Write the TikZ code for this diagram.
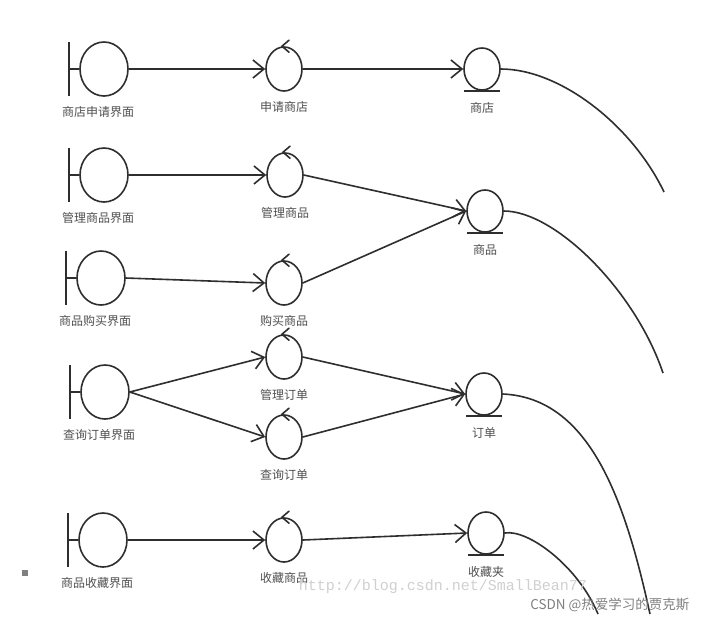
\documentclass[tikz,border=0pt]{standalone}
\usepackage{fontspec}
\setmainfont{Noto Sans CJK SC}
\newfontfamily\wmfont{Liberation Mono}
\usepackage{tikz}
\usetikzlibrary{arrows.meta}
\usetikzlibrary{shapes.geometric}
\definecolor{linegray}{HTML}{2E2E2E}
\definecolor{textgray}{HTML}{505050}
\definecolor{wmgray}{HTML}{D0D0D0}
\definecolor{csdngray}{HTML}{808080}
\tikzset{
  obj/.style={ellipse, draw=linegray, line width=1.6pt, inner sep=0pt},
  boundary/.style={obj, minimum width=48, minimum height=54},
  control/.style={obj, minimum width=36, minimum height=44},
  entity/.style={obj, minimum width=36, minimum height=42},
  link/.style={draw=linegray, line width=1.6pt},
  flow/.style={link, -{Straight Barb[length=11pt,width=18pt]}},
  every label/.style={text=textgray, font=\fontsize{12}{14}\selectfont}
}

\begin{document}
\begin{tikzpicture}[x=1pt,y=-1pt,label distance=6pt]
\fill[white] (0,0) rectangle (706,622);
\useasboundingbox (0,0) rectangle (706,622);
% boundary objects
\node[boundary, label={[xshift=-6pt]below:商店申请界面}] (b1) at (104,69) {};
\node[boundary, label={[xshift=-6pt]below:管理商品界面}] (b2) at (104,175) {};
\node[boundary, label={[xshift=-6pt]below:商品购买界面}] (b3) at (101,278) {};
\node[boundary, label={[xshift=-6pt]below:查询订单界面}] (b4) at (105,392) {};
\node[boundary, label={[xshift=-6pt]below:商品收藏界面}] (b5) at (103,540) {};
% control objects
\node[control, label=below:申请商店] (c1) at (284,69) {};
\node[control, label=below:管理商品] (c2) at (285,175) {};
\node[control, label=below:购买商品] (c3) at (284,283) {};
\node[control, label=below:管理订单] (c4a) at (284,357) {};
\node[control, label=below:查询订单] (c4b) at (284,437) {};
\node[control, label=below:收藏商品] (c5) at (284,540) {};
% entity objects
\node[entity, label={[label distance=8pt]below:商店}] (e1) at (482,69) {};
\node[entity, label={[label distance=8pt]below:商品}] (e2) at (485,211) {};
\node[entity, label={[label distance=8pt]below:订单}] (e4) at (484,394) {};
\node[entity, label={[label distance=8pt]below:收藏夹}] (e5) at (486,533) {};
\foreach \n in {b1,b2,b3,b4,b5}
  \draw[link] (\n.west) -- ++(-10,0) ++(0,-27) -- ++(0,54);
\foreach \n in {c1,c2,c3,c4a,c4b,c5}
  \draw[link, line cap=round] (\n.north) ++(5,-6) -- ++(-7,6) -- ++(7,6);
\foreach \n in {e1,e2,e4,e5}
  \draw[link] (\n.south) +(-18,0) -- +(18,0);
% messages
\draw[flow] (b1) -- (c1);
\draw[flow] (c1) -- (e1);
\draw[flow] (b2) -- (c2);
\draw[flow] (c2.east) -- (e2.west);
\draw[flow] (b3.east) -- (c3.west);
\draw[flow] (c3.east) -- (e2.west);
\draw[flow] (b4.east) -- (c4a.west);
\draw[flow] (b4.east) -- (c4b.west);
\draw[flow] (c4a.east) -- (e4.west);
\draw[flow] (c4b.east) -- (e4.west);
\draw[flow] (b5) -- (c5);
\draw[flow] (c5.east) -- (e5.west);
% curves leaving the entities
\coordinate (x1) at (664,192);
\coordinate (x2) at (663,373);
\coordinate (x4) at (650,614);
\coordinate (x5) at (598,614);
\draw[link] (e1.east) .. controls (560,69) and (632,125) .. (x1);
\draw[link] (e2.east) .. controls (555,211) and (635,290) .. (x2);
\draw[link] (e4.east) .. controls (590,398) and (625,500) .. (x4);
\draw[link] (e5.east) .. controls (528,529) and (578,566) .. (x5);
% watermarks
\fill[csdngray] (22,570) rectangle (28,576);
\node[text=wmgray, font=\wmfont\fontsize{15}{15}\selectfont] (wm) at (443,587) {http://blog.csdn.net/SmallBean77};
\node[text=csdngray, font=\fontsize{13.5}{15}\selectfont, anchor=east] (csdn) at (693,605) {CSDN @热爱学习的贾克斯};
\end{tikzpicture}
\end{document}
